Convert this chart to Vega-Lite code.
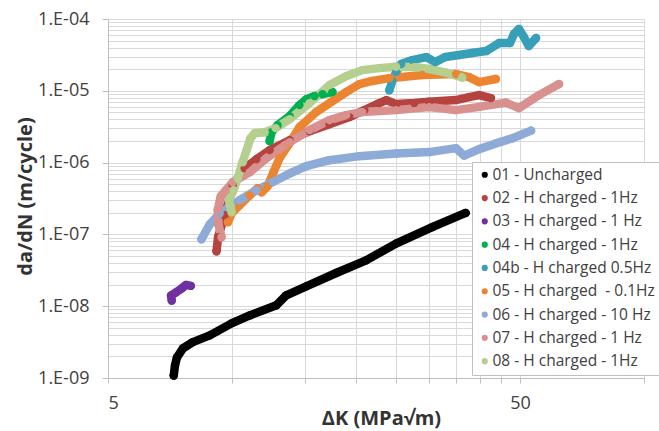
{
  "$schema": "https://vega.github.io/schema/vega-lite/v6.json",
  "width": 536,
  "height": 359,
  "autosize": {"type": "none"},
  "padding": {"left": 108, "top": 19, "right": 15, "bottom": 53},
  "background": "white",
  "config": {"font": "Open Sans", "view": {"stroke": null}},
  "data": {"values": [
    {"s": "01 - Uncharged", "i": 1, "dK": 7.22, "dadN": 1.08e-9},
    {"s": "01 - Uncharged", "i": 2, "dK": 7.27, "dadN": 1.49e-9},
    {"s": "01 - Uncharged", "i": 3, "dK": 7.35, "dadN": 1.93e-9},
    {"s": "01 - Uncharged", "i": 4, "dK": 7.60, "dadN": 2.58e-9},
    {"s": "01 - Uncharged", "i": 5, "dK": 8.03, "dadN": 3.16e-9},
    {"s": "01 - Uncharged", "i": 6, "dK": 8.83, "dadN": 3.92e-9},
    {"s": "01 - Uncharged", "i": 7, "dK": 10.0, "dadN": 5.81e-9},
    {"s": "01 - Uncharged", "i": 8, "dK": 11.04, "dadN": 7.44e-9},
    {"s": "01 - Uncharged", "i": 9, "dK": 12.81, "dadN": 1.03e-8},
    {"s": "01 - Uncharged", "i": 10, "dK": 13.54, "dadN": 1.42e-8},
    {"s": "01 - Uncharged", "i": 11, "dK": 15.14, "dadN": 1.89e-8},
    {"s": "01 - Uncharged", "i": 12, "dK": 17.9, "dadN": 2.90e-8},
    {"s": "01 - Uncharged", "i": 13, "dK": 21.15, "dadN": 4.35e-8},
    {"s": "01 - Uncharged", "i": 14, "dK": 25.0, "dadN": 7.44e-8},
    {"s": "01 - Uncharged", "i": 15, "dK": 30.7, "dadN": 1.27e-7},
    {"s": "01 - Uncharged", "i": 16, "dK": 36.9, "dadN": 1.99e-7},

    {"s": "02 - H charged - 1Hz", "i": 1, "dK": 9.17, "dadN": 5.81e-8},
    {"s": "02 - H charged - 1Hz", "i": 2, "dK": 9.25, "dadN": 9.12e-8},
    {"s": "02 - H charged - 1Hz", "i": 3, "dK": 9.60, "dadN": 1.85e-7},
    {"s": "02 - H charged - 1Hz", "i": 4, "dK": 10.04, "dadN": 4.84e-7},
    {"s": "02 - H charged - 1Hz", "i": 5, "dK": 10.73, "dadN": 8.36e-7},
    {"s": "02 - H charged - 1Hz", "i": 6, "dK": 11.46, "dadN": 1.11e-6},
    {"s": "02 - H charged - 1Hz", "i": 7, "dK": 12.34, "dadN": 1.49e-6},
    {"s": "02 - H charged - 1Hz", "i": 8, "dK": 13.8, "dadN": 2.05e-6},
    {"s": "02 - H charged - 1Hz", "i": 9, "dK": 15.42, "dadN": 2.74e-6},
    {"s": "02 - H charged - 1Hz", "i": 10, "dK": 17.24, "dadN": 3.43e-6},
    {"s": "02 - H charged - 1Hz", "i": 11, "dK": 19.27, "dadN": 4.30e-6},
    {"s": "02 - H charged - 1Hz", "i": 12, "dK": 20.95, "dadN": 5.38e-6},
    {"s": "02 - H charged - 1Hz", "i": 13, "dK": 22.78, "dadN": 6.74e-6},
    {"s": "02 - H charged - 1Hz", "i": 14, "dK": 23.69, "dadN": 7.42e-6},
    {"s": "02 - H charged - 1Hz", "i": 15, "dK": 25.02, "dadN": 6.53e-6},
    {"s": "02 - H charged - 1Hz", "i": 16, "dK": 27.69, "dadN": 6.74e-6},
    {"s": "02 - H charged - 1Hz", "i": 17, "dK": 30.1, "dadN": 7.03e-6},
    {"s": "02 - H charged - 1Hz", "i": 18, "dK": 34.95, "dadN": 7.42e-6},
    {"s": "02 - H charged - 1Hz", "i": 19, "dK": 37.6, "dadN": 8.17e-6},
    {"s": "02 - H charged - 1Hz", "i": 20, "dK": 39.8, "dadN": 8.71e-6},
    {"s": "02 - H charged - 1Hz", "i": 21, "dK": 42.5, "dadN": 7.91e-6},

    {"s": "03 - H charged - 1 Hz", "i": 1, "dK": 7.14, "dadN": 1.20e-8},
    {"s": "03 - H charged - 1 Hz", "i": 2, "dK": 7.11, "dadN": 1.41e-8},
    {"s": "03 - H charged - 1 Hz", "i": 3, "dK": 7.31, "dadN": 1.56e-8},
    {"s": "03 - H charged - 1 Hz", "i": 4, "dK": 7.55, "dadN": 1.77e-8},
    {"s": "03 - H charged - 1 Hz", "i": 5, "dK": 7.73, "dadN": 1.98e-8},
    {"s": "03 - H charged - 1 Hz", "i": 6, "dK": 7.94, "dadN": 1.92e-8},

    {"s": "04 - H charged - 1Hz", "i": 1, "dK": 12.34, "dadN": 1.99e-6},
    {"s": "04 - H charged - 1Hz", "i": 2, "dK": 12.47, "dadN": 2.65e-6},
    {"s": "04 - H charged - 1Hz", "i": 3, "dK": 12.90, "dadN": 3.32e-6},
    {"s": "04 - H charged - 1Hz", "i": 4, "dK": 13.8, "dadN": 4.44e-6},
    {"s": "04 - H charged - 1Hz", "i": 5, "dK": 14.58, "dadN": 6.32e-6},
    {"s": "04 - H charged - 1Hz", "i": 6, "dK": 15.16, "dadN": 7.66e-6},
    {"s": "04 - H charged - 1Hz", "i": 7, "dK": 15.86, "dadN": 8.44e-6},
    {"s": "04 - H charged - 1Hz", "i": 8, "dK": 16.58, "dadN": 8.99e-6},
    {"s": "04 - H charged - 1Hz", "i": 9, "dK": 17.53, "dadN": 9.59e-6},

    {"s": "04b - H charged 0.5Hz", "i": 1, "dK": 24.09, "dadN": 1.02e-5},
    {"s": "04b - H charged 0.5Hz", "i": 2, "dK": 24.49, "dadN": 1.37e-5},
    {"s": "04b - H charged 0.5Hz", "i": 3, "dK": 25.02, "dadN": 1.82e-5},
    {"s": "04b - H charged 0.5Hz", "i": 4, "dK": 25.74, "dadN": 2.36e-5},
    {"s": "04b - H charged 0.5Hz", "i": 5, "dK": 27.39, "dadN": 2.68e-5},
    {"s": "04b - H charged 0.5Hz", "i": 6, "dK": 29.61, "dadN": 2.95e-5},
    {"s": "04b - H charged 0.5Hz", "i": 7, "dK": 31.13, "dadN": 2.51e-5},
    {"s": "04b - H charged 0.5Hz", "i": 8, "dK": 32.92, "dadN": 2.95e-5},
    {"s": "04b - H charged 0.5Hz", "i": 9, "dK": 35.58, "dadN": 3.15e-5},
    {"s": "04b - H charged 0.5Hz", "i": 10, "dK": 38.25, "dadN": 3.36e-5},
    {"s": "04b - H charged 0.5Hz", "i": 11, "dK": 41.37, "dadN": 3.58e-5},
    {"s": "04b - H charged 0.5Hz", "i": 12, "dK": 44.48, "dadN": 4.63e-5},
    {"s": "04b - H charged 0.5Hz", "i": 13, "dK": 47.29, "dadN": 4.63e-5},
    {"s": "04b - H charged 0.5Hz", "i": 14, "dK": 48.35, "dadN": 6.18e-5},
    {"s": "04b - H charged 0.5Hz", "i": 15, "dK": 49.7, "dadN": 7.25e-5},
    {"s": "04b - H charged 0.5Hz", "i": 16, "dK": 51.1, "dadN": 5.61e-5},
    {"s": "04b - H charged 0.5Hz", "i": 17, "dK": 52.5, "dadN": 4.20e-5},
    {"s": "04b - H charged 0.5Hz", "i": 18, "dK": 54.7, "dadN": 5.43e-5},

    {"s": "05 - H charged\u00a0 - 0.1Hz", "i": 1, "dK": 9.78, "dadN": 1.48e-7},
    {"s": "05 - H charged\u00a0 - 0.1Hz", "i": 2, "dK": 9.98, "dadN": 1.97e-7},
    {"s": "05 - H charged\u00a0 - 0.1Hz", "i": 3, "dK": 10.43, "dadN": 2.55e-7},
    {"s": "05 - H charged\u00a0 - 0.1Hz", "i": 4, "dK": 11.04, "dadN": 3.51e-7},
    {"s": "05 - H charged\u00a0 - 0.1Hz", "i": 5, "dK": 11.54, "dadN": 4.40e-7},
    {"s": "05 - H charged\u00a0 - 0.1Hz", "i": 6, "dK": 11.80, "dadN": 3.86e-7},
    {"s": "05 - H charged\u00a0 - 0.1Hz", "i": 7, "dK": 12.20, "dadN": 4.69e-7},
    {"s": "05 - H charged\u00a0 - 0.1Hz", "i": 8, "dK": 12.61, "dadN": 7.35e-7},
    {"s": "05 - H charged\u00a0 - 0.1Hz", "i": 9, "dK": 13.04, "dadN": 1.15e-6},
    {"s": "05 - H charged\u00a0 - 0.1Hz", "i": 10, "dK": 13.8, "dadN": 1.87e-6},
    {"s": "05 - H charged\u00a0 - 0.1Hz", "i": 11, "dK": 14.58, "dadN": 3.12e-6},
    {"s": "05 - H charged\u00a0 - 0.1Hz", "i": 12, "dK": 16.0, "dadN": 5.05e-6},
    {"s": "05 - H charged\u00a0 - 0.1Hz", "i": 13, "dK": 17.53, "dadN": 7.18e-6},
    {"s": "05 - H charged\u00a0 - 0.1Hz", "i": 14, "dK": 18.92, "dadN": 9.59e-6},
    {"s": "05 - H charged\u00a0 - 0.1Hz", "i": 15, "dK": 20.38, "dadN": 1.24e-5},
    {"s": "05 - H charged\u00a0 - 0.1Hz", "i": 16, "dK": 21.91, "dadN": 1.37e-5},
    {"s": "05 - H charged\u00a0 - 0.1Hz", "i": 17, "dK": 24.09, "dadN": 1.50e-5},
    {"s": "05 - H charged\u00a0 - 0.1Hz", "i": 18, "dK": 28.95, "dadN": 1.66e-5},
    {"s": "05 - H charged\u00a0 - 0.1Hz", "i": 19, "dK": 35.0, "dadN": 1.71e-5},
    {"s": "05 - H charged\u00a0 - 0.1Hz", "i": 20, "dK": 37.6, "dadN": 1.55e-5},
    {"s": "05 - H charged\u00a0 - 0.1Hz", "i": 21, "dK": 39.8, "dadN": 1.32e-5},
    {"s": "05 - H charged\u00a0 - 0.1Hz", "i": 22, "dK": 43.7, "dadN": 1.46e-5},

    {"s": "06 - H charged - 10 Hz", "i": 1, "dK": 8.43, "dadN": 8.55e-8},
    {"s": "06 - H charged - 10 Hz", "i": 2, "dK": 8.83, "dadN": 1.38e-7},
    {"s": "06 - H charged - 10 Hz", "i": 3, "dK": 9.34, "dadN": 1.97e-7},
    {"s": "06 - H charged - 10 Hz", "i": 4, "dK": 10.43, "dadN": 2.99e-7},
    {"s": "06 - H charged - 10 Hz", "i": 5, "dK": 11.46, "dadN": 4.12e-7},
    {"s": "06 - H charged - 10 Hz", "i": 6, "dK": 12.57, "dadN": 5.38e-7},
    {"s": "06 - H charged - 10 Hz", "i": 7, "dK": 13.8, "dadN": 7.05e-7},
    {"s": "06 - H charged - 10 Hz", "i": 8, "dK": 15.14, "dadN": 8.91e-7},
    {"s": "06 - H charged - 10 Hz", "i": 9, "dK": 17.24, "dadN": 1.08e-6},
    {"s": "06 - H charged - 10 Hz", "i": 10, "dK": 20.38, "dadN": 1.23e-6},
    {"s": "06 - H charged - 10 Hz", "i": 11, "dK": 25.0, "dadN": 1.34e-6},
    {"s": "06 - H charged - 10 Hz", "i": 12, "dK": 30.1, "dadN": 1.40e-6},
    {"s": "06 - H charged - 10 Hz", "i": 13, "dK": 34.95, "dadN": 1.59e-6},
    {"s": "06 - H charged - 10 Hz", "i": 14, "dK": 36.6, "dadN": 1.25e-6},
    {"s": "06 - H charged - 10 Hz", "i": 15, "dK": 39.8, "dadN": 1.54e-6},
    {"s": "06 - H charged - 10 Hz", "i": 16, "dK": 43.7, "dadN": 1.85e-6},
    {"s": "06 - H charged - 10 Hz", "i": 17, "dK": 47.8, "dadN": 2.17e-6},
    {"s": "06 - H charged - 10 Hz", "i": 18, "dK": 53.2, "dadN": 2.79e-6},

    {"s": "07 - H charged - 1 Hz", "i": 1, "dK": 9.43, "dadN": 9.12e-8},
    {"s": "07 - H charged - 1 Hz", "i": 2, "dK": 9.28, "dadN": 1.34e-7},
    {"s": "07 - H charged - 1 Hz", "i": 3, "dK": 9.23, "dadN": 2.17e-7},
    {"s": "07 - H charged - 1 Hz", "i": 4, "dK": 9.39, "dadN": 3.40e-7},
    {"s": "07 - H charged - 1 Hz", "i": 5, "dK": 9.66, "dadN": 4.12e-7},
    {"s": "07 - H charged - 1 Hz", "i": 6, "dK": 10.04, "dadN": 5.33e-7},
    {"s": "07 - H charged - 1 Hz", "i": 7, "dK": 11.04, "dadN": 7.35e-7},
    {"s": "07 - H charged - 1 Hz", "i": 8, "dK": 12.12, "dadN": 1.15e-6},
    {"s": "07 - H charged - 1 Hz", "i": 9, "dK": 13.8, "dadN": 1.93e-6},
    {"s": "07 - H charged - 1 Hz", "i": 10, "dK": 15.42, "dadN": 2.83e-6},
    {"s": "07 - H charged - 1 Hz", "i": 11, "dK": 17.24, "dadN": 3.90e-6},
    {"s": "07 - H charged - 1 Hz", "i": 12, "dK": 18.92, "dadN": 4.58e-6},
    {"s": "07 - H charged - 1 Hz", "i": 13, "dK": 20.7, "dadN": 5.05e-6},
    {"s": "07 - H charged - 1 Hz", "i": 14, "dK": 25.02, "dadN": 5.38e-6},
    {"s": "07 - H charged - 1 Hz", "i": 15, "dK": 30.1, "dadN": 5.93e-6},
    {"s": "07 - H charged - 1 Hz", "i": 16, "dK": 34.95, "dadN": 5.38e-6},
    {"s": "07 - H charged - 1 Hz", "i": 17, "dK": 39.8, "dadN": 5.98e-6},
    {"s": "07 - H charged - 1 Hz", "i": 18, "dK": 46.2, "dadN": 6.85e-6},
    {"s": "07 - H charged - 1 Hz", "i": 19, "dK": 49.7, "dadN": 5.74e-6},
    {"s": "07 - H charged - 1 Hz", "i": 20, "dK": 55.6, "dadN": 8.71e-6},
    {"s": "07 - H charged - 1 Hz", "i": 21, "dK": 62.2, "dadN": 1.24e-5},

    {"s": "08 - H charged - 1Hz", "i": 1, "dK": 9.98, "dadN": 2.03e-7},
    {"s": "08 - H charged - 1Hz", "i": 2, "dK": 9.82, "dadN": 2.99e-7},
    {"s": "08 - H charged - 1Hz", "i": 3, "dK": 10.09, "dadN": 4.12e-7},
    {"s": "08 - H charged - 1Hz", "i": 4, "dK": 10.32, "dadN": 6.06e-7},
    {"s": "08 - H charged - 1Hz", "i": 5, "dK": 10.61, "dadN": 1.01e-6},
    {"s": "08 - H charged - 1Hz", "i": 6, "dK": 10.85, "dadN": 1.49e-6},
    {"s": "08 - H charged - 1Hz", "i": 7, "dK": 11.09, "dadN": 2.19e-6},
    {"s": "08 - H charged - 1Hz", "i": 8, "dK": 11.35, "dadN": 2.57e-6},
    {"s": "08 - H charged - 1Hz", "i": 9, "dK": 12.0, "dadN": 2.65e-6},
    {"s": "08 - H charged - 1Hz", "i": 10, "dK": 12.76, "dadN": 3.02e-6},
    {"s": "08 - H charged - 1Hz", "i": 11, "dK": 13.8, "dadN": 4.03e-6},
    {"s": "08 - H charged - 1Hz", "i": 12, "dK": 15.42, "dadN": 6.74e-6},
    {"s": "08 - H charged - 1Hz", "i": 13, "dK": 17.24, "dadN": 1.20e-5},
    {"s": "08 - H charged - 1Hz", "i": 14, "dK": 18.92, "dadN": 1.60e-5},
    {"s": "08 - H charged - 1Hz", "i": 15, "dK": 20.7, "dadN": 1.94e-5},
    {"s": "08 - H charged - 1Hz", "i": 16, "dK": 22.78, "dadN": 2.07e-5},
    {"s": "08 - H charged - 1Hz", "i": 17, "dK": 25.02, "dadN": 2.16e-5},
    {"s": "08 - H charged - 1Hz", "i": 18, "dK": 27.69, "dadN": 2.14e-5},
    {"s": "08 - H charged - 1Hz", "i": 19, "dK": 30.1, "dadN": 2.01e-5},
    {"s": "08 - H charged - 1Hz", "i": 20, "dK": 33.1, "dadN": 1.79e-5},
    {"s": "08 - H charged - 1Hz", "i": 21, "dK": 36.2, "dadN": 1.53e-5}
  ]},
  "encoding": {
    "x": {
      "field": "dK", "type": "quantitative",
      "scale": {"type": "log", "domain": [5, 100], "nice": false},
      "axis": {
        "values": [5, 10, 15, 20, 25, 30, 35, 40, 45, 50, 100],
        "labelExpr": "datum.value == 5 || datum.value == 50 ? datum.label : ''",
        "title": "ΔK (MPa√m)",
        "titleFontSize": 20, "titleFontWeight": "bold", "titleColor": "#333333",
        "titleX": 273, "titleY": 40, "titleBaseline": "middle", "titleAlign": "center",
        "labelFontSize": 18, "labelColor": "#404040", "labelPadding": 11,
        "tickSize": 5, "tickColor": "#bfbfbf", "domainColor": "#bfbfbf",
        "gridColor": "#d9d9d9", "grid": true
      }
    },
    "y": {
      "field": "dadN", "type": "quantitative",
      "scale": {"type": "log", "domain": [1e-9, 1e-4], "nice": false},
      "axis": {
        "values": [1e-9, 2e-9, 3e-9, 4e-9, 5e-9, 6e-9, 7e-9, 8e-9, 9e-9,
                   1e-8, 2e-8, 3e-8, 4e-8, 5e-8, 6e-8, 7e-8, 8e-8, 9e-8,
                   1e-7, 2e-7, 3e-7, 4e-7, 5e-7, 6e-7, 7e-7, 8e-7, 9e-7,
                   1e-6, 2e-6, 3e-6, 4e-6, 5e-6, 6e-6, 7e-6, 8e-6, 9e-6,
                   1e-5, 2e-5, 3e-5, 4e-5, 5e-5, 6e-5, 7e-5, 8e-5, 9e-5, 1e-4],
        "labelExpr": "abs(log(datum.value)/LN10 - round(log(datum.value)/LN10)) < 0.01 ? '1.E-0' + (-round(log(datum.value)/LN10)) : ''",
        "tickOpacity": {"condition": {"test": "abs(log(datum.value)/LN10 - round(log(datum.value)/LN10)) < 0.01", "value": 1}, "value": 0},
        "title": "da/dN (m/cycle)",
        "titleFontSize": 20, "titleFontWeight": "bold", "titleColor": "#333333",
        "titleX": -83, "titleY": 177, "titleAngle": -90, "titleBaseline": "middle", "titleAlign": "center",
        "labelFontSize": 18, "labelColor": "#404040", "labelPadding": 13,
        "tickSize": 6, "tickColor": "#bfbfbf", "domainColor": "#bfbfbf",
        "gridColor": "#d9d9d9", "grid": true
      }
    }
  },
  "layer": [
    {
      "mark": {"type": "line", "strokeWidth": 8.5, "strokeCap": "round", "strokeJoin": "round"},
      "encoding": {
        "stroke": {
          "field": "s", "type": "nominal",
          "scale": {
            "range": ["#000000", "#b5433f", "#7030a0", "#00b050", "#379fb7", "#eb8532", "#8eaad6", "#d99190", "#b4cf8e"]
          },
          "legend": null
        },
        "order": {"field": "i"}
      }
    },
    {
      "mark": {"type": "point", "filled": true, "size": 70, "opacity": 1},
      "encoding": {
        "color": {
          "field": "s", "type": "nominal",
          "scale": {
            "domain": ["01 - Uncharged", "02 - H charged - 1Hz", "03 - H charged - 1 Hz", "04 - H charged - 1Hz", "04b - H charged 0.5Hz", "05 - H charged\u00a0 - 0.1Hz", "06 - H charged - 10 Hz", "07 - H charged - 1 Hz", "08 - H charged - 1Hz"],
            "range": ["#000000", "#b5433f", "#7030a0", "#00b050", "#379fb7", "#eb8532", "#8eaad6", "#d99190", "#b4cf8e"]
          },
          "legend": {
            "title": null,
            "orient": "none", "legendX": 364, "legendY": 143,
            "fillColor": "white", "strokeColor": "#bfbfbf", "padding": 5,
            "symbolType": "circle", "symbolSize": 38, "symbolOffset": 0,
            "labelFontSize": 15.5, "labelColor": "#404040", "labelOffset": 0,
            "rowPadding": 6.3, "labelLimit": 300
          }
        }
      }
    }
  ]
}
